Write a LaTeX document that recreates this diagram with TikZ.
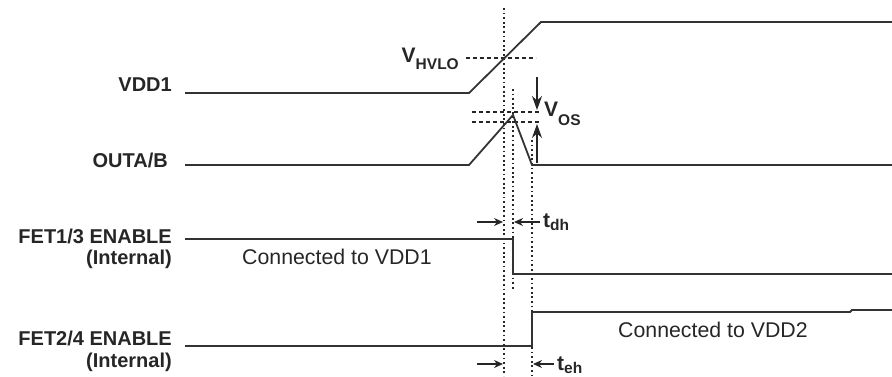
\documentclass[tikz,border=0pt]{standalone}
\usepackage{fontspec}
\setmainfont{Liberation Sans}
\usetikzlibrary{arrows.meta}
\newcommand{\subtxt}[2]{\raisebox{#1}{\fontsize{15.5}{15.5}\selectfont\bfseries #2}}
\begin{document}
\begin{tikzpicture}[x=1pt,y=-1pt,
  sig/.style={line width=1.8pt, draw=black!80, line join=miter},
  vguide/.style={line width=1.5pt, dash pattern=on 1.8pt off 2.8pt, draw=black!85},
  hguide/.style={line width=1.2pt, dash pattern=on 4pt off 3pt, draw=black!85},
  lbl/.style={font=\bfseries\fontsize{20}{22}\selectfont, inner sep=0pt, text=black!85},
  note/.style={font=\fontsize{21.3}{23}\selectfont, inner sep=0pt, text=black!85},
  sym/.style={font=\bfseries\fontsize{21}{23}\selectfont, inner sep=0pt, text=black!85},
  tarrow/.style={line width=1.3pt, draw=black!85, -{Stealth[length=9pt,width=8pt]}},
  varrow/.style={line width=1.5pt, draw=black!85, -{Stealth[length=14pt,width=10pt]}}
]
\useasboundingbox (0,0) rectangle (892,376);
% waveform points
\coordinate (a0) at (185,93); \coordinate (a1) at (469,93);
\coordinate (a2) at (541,22); \coordinate (a3) at (892,22);
\coordinate (b0) at (185,165); \coordinate (b1) at (469,165);
\coordinate (b2) at (513,115); \coordinate (b3) at (532,165);
\coordinate (b4) at (892,165);
\coordinate (c0) at (185,239); \coordinate (c1) at (513,239);
\coordinate (c2) at (513,274); \coordinate (c3) at (892,274);
\coordinate (d0) at (185,346); \coordinate (d1) at (532,346);
\coordinate (d2) at (532,312); \coordinate (d3) at (850,312);
\coordinate (d4) at (852,310); \coordinate (d5) at (892,310);
% guides
\coordinate (g1t) at (504,8);   \coordinate (g1b) at (504,376);
\coordinate (g2t) at (513,89);  \coordinate (g2b) at (513,290);
\coordinate (g3t) at (532,140); \coordinate (g3b) at (532,376);
\coordinate (h1l) at (466,58);  \coordinate (h1r) at (536,58);
\coordinate (h2l) at (472,112); \coordinate (h2r) at (541,112);
\coordinate (h3l) at (472,122); \coordinate (h3r) at (541,122);
% arrows
\coordinate (v1s) at (537,77);  \coordinate (v1e) at (537,110);
\coordinate (v2s) at (537,163); \coordinate (v2e) at (537,124);
\coordinate (t1s) at (477,222); \coordinate (t1e) at (503,222);
\coordinate (t2s) at (540,222); \coordinate (t2e) at (514,222);
\coordinate (t3s) at (477,364); \coordinate (t3e) at (503,364);
\coordinate (t4s) at (554,364); \coordinate (t4e) at (533,364);

\draw[vguide] (g1t) -- (g1b);
\draw[vguide] (g2t) -- (g2b);
\draw[vguide] (g3t) -- (g3b);
\draw[hguide] (h1l) -- (h1r);
\draw[hguide] (h2l) -- (h2r);
\draw[hguide] (h3l) -- (h3r);

\draw[sig] (a0) -- (a1) -- (a2) -- (a3);
\draw[sig] (b0) -- (b1) -- (b2) -- (b3) -- (b4);
\draw[sig] (c0) -- (c1) -- (c2) -- (c3);
\draw[sig] (d0) -- (d1) -- (d2) -- (d3) -- (d4) -- (d5);

\draw[varrow] (v1s) -- (v1e);
\draw[varrow] (v2s) -- (v2e);
\draw[tarrow] (t1s) -- (t1e);
\draw[tarrow] (t2s) -- (t2e);
\draw[tarrow] (t3s) -- (t3e);
\draw[tarrow] (t4s) -- (t4e);

% labels
\node[lbl, anchor=base east] (lvdd) at (172,91) {VDD1};
\node[lbl, anchor=base east] (lout) at (168,167) {OUTA/B};
\node[lbl, anchor=base east] (lf1) at (172,243) {FET1/3 ENABLE};
\node[lbl, anchor=base east] (lf1i) at (172,264) {(Internal)};
\node[lbl, anchor=base east] (lf2) at (172,345) {FET2/4 ENABLE};
\node[lbl, anchor=base east] (lf2i) at (172,367) {(Internal)};
\node[note, anchor=base west] (n1) at (242,264) {Connected to VDD1};
\node[note, anchor=base west] (n2) at (618,337) {Connected to VDD2};
\node[sym, anchor=base east] (vh) at (459,62) {V\subtxt{-7pt}{HVLO}};
\node[sym, anchor=base west] (vos) at (544,116) {V\subtxt{-9pt}{OS}};
\node[sym, anchor=base west] (tdh) at (543,227) {t\subtxt{-3pt}{dh}};
\node[sym, anchor=base west] (teh) at (557,370) {t\subtxt{-3pt}{eh}};
\end{tikzpicture}
\end{document}
